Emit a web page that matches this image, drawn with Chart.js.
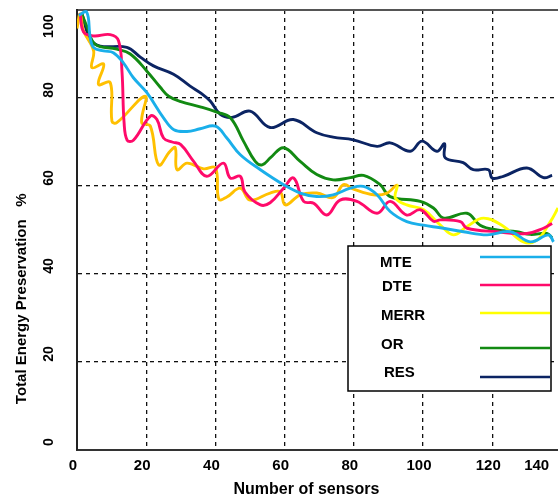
<!DOCTYPE html>
<html>
<head>
<meta charset="utf-8">
<script src="https://cdn.jsdelivr.net/npm/chart.js@4.4.1/dist/chart.umd.min.js"></script>
<style>
  html, body { margin: 0; padding: 0; background: #fff; overflow: hidden; }
</style>
</head>
<body>
<canvas id="chart" width="558" height="500"></canvas>
<script>
// ── Data ────────────────────────────────────────────────────────────────────
const seriesNames = ['MTE', 'DTE', 'MERR', 'OR', 'RES'];

const mteX = [0.5, 2.8, 3.8, 4.8, 7.7, 10.5, 13.4, 16.3, 20.2, 25, 28, 31.8, 35.6, 40, 43.3, 47.2, 53, 59.7, 64.5, 69.3, 74, 79, 82.8, 86.7, 90.5, 95.3, 100.1, 105, 111.7, 118.5, 125.2, 131, 136.3, 137.7];
const mteY = [98.8, 99.5, 93.8, 91.5, 90.7, 90.3, 88, 84.6, 81.2, 75.5, 72.8, 72.4, 73, 73.6, 70.9, 67.1, 63.7, 60.3, 58.4, 57.6, 58, 59.5, 59.9, 58, 54.2, 51.9, 51.1, 50.5, 49.6, 48.9, 49.6, 47.3, 48.9, 47.3];

const dteX = [0.9, 1.9, 4.8, 9.6, 12, 13, 13.6, 14.5, 16.3, 21.2, 23.1, 25, 27.5, 30, 33.7, 37.5, 42.3, 44.3, 47.2, 48.5, 53, 55.8, 59.7, 62.6, 65.5, 68.4, 72.2, 76, 80.9, 86.7, 90.5, 95.3, 99.2, 103, 105, 110.8, 112.7, 121.4, 130, 134.8, 137.3];
const dteY = [99.3, 95, 94.1, 94.4, 93, 86, 74.5, 70.4, 70.4, 75.9, 75.1, 70.9, 70, 69.4, 65.6, 62.2, 65.2, 61.8, 62.2, 58.7, 55.7, 56.2, 59.5, 61.8, 56.5, 56.1, 53.4, 56.8, 56.5, 53.8, 56.5, 53.4, 54.6, 52, 52.3, 51.9, 50.4, 49.6, 49.2, 50.4, 51.5];

// MERR is drawn gold up to merrGoldCount points, bright yellow after
const merrX = [0, 0.9, 1.9, 4.8, 4.3, 7.7, 6.2, 9.6, 10.1, 11.5, 19.7, 18.7, 21.2, 23.6, 26.9, 28.4, 28.9, 31.8, 36.6, 40, 41, 43.3, 47.2, 50, 55.8, 58.7, 60.2, 64.5, 69.3, 74.1, 77, 79.9, 85.7, 89.6, 92.5, 92, 95.3, 100.2, 105, 108.8, 112.7, 117.5, 123.3, 129, 132.9, 136.8, 139];
const merrY = [95.8, 99.1, 95.3, 90.7, 86.9, 87.7, 83.1, 83.5, 74.7, 74.4, 80.4, 74.4, 73.6, 64.8, 67.9, 68.7, 63.7, 65.2, 63.9, 64.1, 57, 57.5, 59.5, 56.8, 58.4, 58.7, 55.7, 58, 58.4, 57.4, 60.3, 59.3, 58, 58.4, 60.2, 57.3, 55.7, 54.6, 51.1, 48.9, 50.8, 52.7, 50.8, 47.3, 47.7, 51.9, 55];
const merrGoldCount = 35;

const orX = [1.4, 3, 5.3, 11.5, 15.4, 20.2, 24, 26.5, 30, 35.6, 40.4, 44.3, 48.1, 51.5, 53.5, 56, 59.7, 64.5, 69.3, 74, 79, 82.8, 87.6, 90.5, 99.2, 103, 106, 112.7, 116.5, 121.4, 127.1, 131, 135.8, 137.3];
const orY = [99.1, 96, 92.2, 91.1, 90, 86.1, 82.5, 80.4, 79.2, 78, 76.8, 75.5, 70.2, 65.6, 64.8, 66.5, 68.7, 65.6, 62.6, 61.4, 61.9, 62.4, 60.3, 57.6, 56.5, 55, 52.7, 53.8, 51.1, 50, 49.6, 49, 49.2, 48.2];

const resX = [1.4, 3.8, 6.7, 14.4, 18.3, 22.1, 27.9, 32.7, 36, 38.5, 41.4, 44.8, 50, 55.8, 62.5, 69.3, 74, 79.8, 86.7, 90.5, 96.3, 99.7, 104, 106.2, 106.4, 111.6, 114.5, 118.9, 120, 123.2, 130, 134.8, 137.3];
const resY = [99.2, 93.4, 91.8, 91.5, 89.3, 87.3, 85.4, 82.7, 81, 79.3, 76.3, 75.6, 77, 73.3, 75.1, 72.1, 71.1, 70.5, 69, 69.8, 67.9, 70.2, 67.9, 69.6, 66.4, 65.3, 63.7, 63.7, 61.8, 62.2, 64.1, 61.9, 62.4];

// tick places as printed in the source figure (its end labels sit off-grid)
const xTickValues = [0, 20, 40, 60, 80, 100, 120, 134];
const xTickLabels = ['0', '20', '40', '60', '80', '100', '120', '140'];
const yTickValues = [0, 20, 40, 60, 80, 94.5];
const yTickLabels = ['0', '20', '40', '60', '80', '100'];

// ── Helpers ─────────────────────────────────────────────────────────────────
const FONT = "'Liberation Sans', Arial, sans-serif";
const pts = (xs, ys) => xs.map((x, i) => ({ x: x, y: ys[i] }));

function lineSet(label, xs, ys, color) {
  return {
    label: label,
    data: pts(xs, ys),
    borderColor: color,
    borderWidth: 2.9,
    pointRadius: 0,
    tension: 0.4,
    fill: false
  };
}

// Chart.js keeps room for the end labels; the source figure doesn't
function noEdgePadding(s) {
  s.paddingTop = 0; s.paddingBottom = 0;
  s.paddingLeft = 0; s.paddingRight = 0;
}

// boxed legend: name on the left, sample line on the right
const boxLegend = {
  id: 'boxLegend',
  afterDatasetsDraw(chart) {
    const ctx = chart.ctx;
    const textX = [380, 382, 381, 381, 384];
    const textY = [263, 287, 316, 345, 373];
    const lineY = [257, 285, 313, 348, 377];
    ctx.save();
    ctx.fillStyle = '#fff';
    ctx.fillRect(348, 246, 203, 145);
    ctx.strokeStyle = '#000';
    ctx.lineWidth = 1.5;
    ctx.strokeRect(348, 246, 203, 145);
    ctx.font = 'bold 15px ' + FONT;
    ctx.textBaseline = 'middle';
    ctx.fillStyle = '#000';
    chart.data.datasets.forEach((ds, i) => {
      ctx.fillText(ds.label, textX[i], textY[i]);
      ctx.strokeStyle = ds.borderColor;
      ctx.lineWidth = 2.6;
      ctx.beginPath();
      ctx.moveTo(480, lineY[i]);
      ctx.lineTo(550, lineY[i]);
      ctx.stroke();
    });
    ctx.restore();
  }
};

const merr = lineSet(seriesNames[2], merrX, merrY, '#FFFF00');
merr.segment = {
  borderColor: c => c.p0DataIndex < merrGoldCount - 1 ? '#FFC000' : undefined
};

new Chart(document.getElementById('chart'), {
  type: 'line',
  data: {
    datasets: [
      lineSet(seriesNames[0], mteX, mteY, '#1AAFEA'),
      lineSet(seriesNames[1], dteX, dteY, '#FF0A6A'),
      merr,
      lineSet(seriesNames[3], orX, orY, '#128A12'),
      lineSet(seriesNames[4], resX, resY, '#0B2463')
    ]
  },
  options: {
    responsive: false,
    animation: false,
    layout: { padding: 0 },
    plugins: { legend: { display: false }, tooltip: { enabled: false } },
    scales: {
      x: {
        type: 'linear',
        min: 0,
        max: 139,
        afterBuildTicks: s => { s.ticks = xTickValues.map(v => ({ value: v })); },
        afterFit: s => { s.height = 50; noEdgePadding(s); },
        ticks: {
          autoSkip: false,
          maxRotation: 0,
          padding: 7,
          labelOffset: -4,
          color: '#000',
          font: { family: FONT, size: 15, weight: 'bold' },
          callback: (v, i) => xTickLabels[i]
        },
        grid: {
          drawTicks: false,
          lineWidth: 1.3,
          color: c => (c.tick && c.tick.value > 0 && c.tick.value <= 120) ? '#111' : 'rgba(0,0,0,0)'
        },
        border: { color: '#333', width: 2, dash: [4, 4] },
        title: {
          display: true,
          text: 'Number of sensors     ',
          color: '#000',
          font: { family: FONT, size: 16, weight: 'bold' },
          padding: { top: 0, bottom: 1 }
        }
      },
      xTop: {
        type: 'linear',
        position: 'top',
        min: 0,
        max: 139,
        afterFit: s => { s.height = 10; noEdgePadding(s); },
        ticks: { display: false },
        grid: { display: false, drawTicks: false },
        border: { color: '#555', width: 2 }
      },
      y: {
        min: 0,
        max: 100,
        afterBuildTicks: s => { s.ticks = yTickValues.map(v => ({ value: v })); },
        afterFit: s => { s.width = 77; noEdgePadding(s); },
        ticks: {
          minRotation: 90,
          maxRotation: 90,
          crossAlign: 'center',
          padding: 16,
          labelOffset: -8,
          color: '#000',
          font: { family: FONT, size: 14, weight: 'bold' },
          callback: (v, i) => yTickLabels[i]
        },
        grid: {
          drawTicks: false,
          lineWidth: 1.3,
          color: c => (c.tick && c.tick.value > 0 && c.tick.value < 90) ? '#111' : 'rgba(0,0,0,0)'
        },
        border: { color: '#222', width: 2, dash: [4, 4] },
        title: {
          display: true,
          align: 'start',
          text: '           Total Energy Preservation   %',
          color: '#000',
          font: { family: FONT, size: 15, weight: 'bold' },
          padding: { top: 13, bottom: 0 }
        }
      }
    }
  },
  plugins: [boxLegend]
});
</script>
</body>
</html>
